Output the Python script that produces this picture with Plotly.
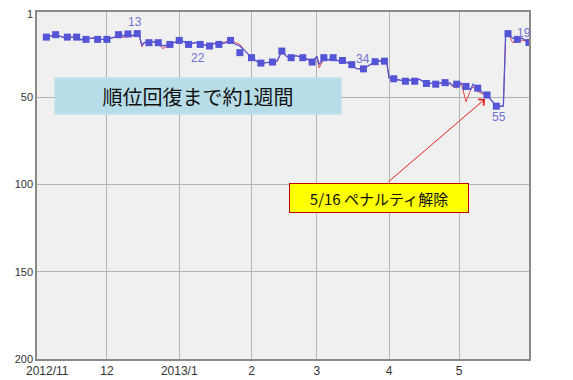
import plotly.graph_objects as go

# ---- data ----
line_dates = ["2012-11-05", "2012-11-09", "2012-11-12", "2012-11-14", "2012-11-18", "2012-11-20",
              "2012-11-21", "2012-11-22", "2012-11-25", "2012-11-27", "2012-12-01", "2012-12-04",
              "2012-12-06", "2012-12-08", "2012-12-10", "2012-12-12", "2012-12-14", "2012-12-15",
              "2012-12-16", "2012-12-17", "2012-12-19", "2012-12-21", "2012-12-23", "2012-12-25",
              "2012-12-28", "2013-01-01", "2013-01-03", "2013-01-05", "2013-01-08", "2013-01-10",
              "2013-01-14", "2013-01-16", "2013-01-18", "2013-01-21", "2013-01-23", "2013-01-25",
              "2013-01-27", "2013-01-29", "2013-02-01", "2013-02-03", "2013-02-05", "2013-02-10",
              "2013-02-12", "2013-02-14", "2013-02-16", "2013-02-18", "2013-02-20", "2013-02-23",
              "2013-02-25", "2013-02-27", "2013-03-01", "2013-03-02", "2013-03-04", "2013-03-06",
              "2013-03-08", "2013-03-10", "2013-03-12", "2013-03-14", "2013-03-16", "2013-03-18",
              "2013-03-21", "2013-03-23", "2013-03-26", "2013-03-28", "2013-03-30", "2013-03-31",
              "2013-04-01", "2013-04-03", "2013-04-08", "2013-04-10", "2013-04-12", "2013-04-14",
              "2013-04-17", "2013-04-19", "2013-04-21", "2013-04-23", "2013-04-25", "2013-04-26",
              "2013-04-27", "2013-04-28", "2013-04-30", "2013-05-02", "2013-05-04", "2013-05-06",
              "2013-05-07", "2013-05-09", "2013-05-11", "2013-05-13", "2013-05-15", "2013-05-17",
              "2013-05-20", "2013-05-21", "2013-05-22", "2013-05-24", "2013-05-26", "2013-05-28",
              "2013-05-31"]
blue_ranks = [15.4, 14, 15.4, 15.4, 15.4, 17, 16, 16.7, 15.8, 16.7, 16.7, 15.5,
              14, 14.6, 13.6, 14.5, 13.4, 15, 20, 18.5, 18.6, 18, 18.6, 20.5,
              19.6, 17.3, 18, 19.6, 18.5, 19.6, 20.5, 19, 19.6, 18.5, 17.3, 19.5,
              20.5, 23, 27.2, 29, 30.3, 29.7, 29, 23.4, 26.5, 27.2, 26, 27.2,
              28, 29.7, 26.5, 31, 27.2, 28.5, 27.2, 29, 28.8, 30, 31.2, 33.5,
              33.6, 32, 29.5, 29, 29.2, 30, 38.8, 39.3, 40.7, 40, 40.7, 39.5,
              42, 41.8, 42.4, 41.8, 41.5, 43, 41.5, 43, 42.4, 41.8, 43.7, 45.5,
              42.5, 44.7, 47, 48.6, 52, 55, 55, 13.4, 13.4, 16, 16.7, 16, 18.5]
red_ranks = [15.4, 14, 15.4, 15.4, 15.4, 17, 16, 16.7, 15.8, 16.7, 16.7, 15.5,
             14.5, 15.5, 15.2, 14.8, 13.8, 15.5, 21, 18.5, 18.6, 18, 19.5, 22,
             19.6, 17.3, 18, 19.6, 18.5, 19.6, 20.5, 19, 19.6, 18, 17, 18.5,
             19.6, 23, 27.2, 29, 30.3, 29.7, 29.5, 23.4, 26.5, 27.2, 26, 27.2,
             28, 29.7, 26.5, 33, 28, 28.5, 27.2, 29, 28.8, 30, 31.2, 33.5,
             33.6, 32, 29.5, 29, 29.5, 30, 38.8, 39.3, 40.7, 40, 40.7, 39.5,
             42, 42, 42.4, 41.8, 41.5, 43.5, 41.5, 43.5, 44.5, 42, 52.5, 45.5,
             44, 46.5, 48, 49, 52, 55, 55, 13.4, 13.4, 18.5, 18.5, 17, 18.5]

marker_dates = ["2012-11-05", "2012-11-09", "2012-11-14", "2012-11-18", "2012-11-22", "2012-11-27",
                "2012-12-01", "2012-12-06", "2012-12-10", "2012-12-14", "2012-12-19", "2012-12-23",
                "2012-12-28", "2013-01-01", "2013-01-05", "2013-01-10", "2013-01-14", "2013-01-18",
                "2013-01-23", "2013-01-27", "2013-02-01", "2013-02-05", "2013-02-10", "2013-02-14",
                "2013-02-18", "2013-02-23", "2013-02-27", "2013-03-04", "2013-03-08", "2013-03-12",
                "2013-03-16", "2013-03-21", "2013-03-26", "2013-03-30", "2013-04-03", "2013-04-08",
                "2013-04-12", "2013-04-17", "2013-04-21", "2013-04-25", "2013-04-30", "2013-05-04",
                "2013-05-09", "2013-05-13", "2013-05-17", "2013-05-22", "2013-05-26", "2013-05-31"]
marker_ranks = [15.4, 14, 15.4, 15.4, 16.7, 16.7, 16.7, 14, 13.6, 13.4, 18.6, 18.6,
                19.6, 17.3, 19.6, 19.6, 20.5, 19.6, 17.3, 24.3, 27.2, 30.3, 29.7, 23.4,
                27.2, 27.2, 29.7, 27.2, 27.2, 28.8, 31.2, 33.6, 29.5, 29.2, 39.3, 40.7,
                40.7, 42, 42.4, 41.5, 42.4, 43.7, 44.7, 48.6, 55, 13.4, 16.7, 18.5]

# value labels: (date, rank, text, vertical shift px)
label_dates = ["2012-12-13", "2013-01-09", "2013-03-21", "2013-05-18", "2013-05-29"]
label_ranks = [13.4, 19.6, 33.6, 55, 18.5]
label_texts = ["13", "22", "34", "55", "19"]
label_shift = [12, -14, 10, -11, 10]

x_tickvals = ["2012-12-01", "2013-01-01", "2013-02-01", "2013-03-01", "2013-04-01", "2013-05-01"]
x_ticktext = ["12", "2013/1", "2", "3", "4", "5"]
y_tickvals = [50, 100, 150, 200]
y_top_label = "1"

BLUE = "#5454d6"
RED = "#e04848"
TICKFONT_Y = dict(family="Liberation Sans, Arial", size=11, color="#333333")

fig = go.Figure()
fig.add_trace(go.Scatter(x=line_dates, y=red_ranks, mode="lines",
                         line=dict(color=RED, width=1), hoverinfo="skip"))
fig.add_trace(go.Scatter(x=line_dates, y=blue_ranks, mode="lines",
                         line=dict(color=BLUE, width=1.3), hoverinfo="skip"))
fig.add_trace(go.Scatter(x=marker_dates, y=marker_ranks, mode="markers",
                         marker=dict(symbol="square", size=7, color=BLUE)))

for d, r, t, s in zip(label_dates, label_ranks, label_texts, label_shift):
    fig.add_annotation(x=d, y=r, text=t, showarrow=False, yshift=s,
                       font=dict(family="Liberation Sans, Arial", size=12, color="#7272d2"))

# first x label (offset from the axis edge)
fig.add_annotation(x="2012-11-05T17:00", y=0, xref="x", yref="paper", yanchor="top",
                   text="2012/11", showarrow=False, yshift=-3,
                   font=dict(family="Liberation Sans, Arial", size=12, color="#333333"))

# top y label, nudged down so it is not clipped
fig.add_annotation(x=0, y=1, xref="paper", yref="paper", xanchor="right", yanchor="middle",
                   text=y_top_label, showarrow=False, xshift=-2, yshift=-2, font=TICKFONT_Y)

# blue caption box
fig.add_annotation(x=0.327, y=0.759, xref="paper", yref="paper", text="順位回復まで約1週間",
                   xanchor="center", yanchor="middle",
                   showarrow=False, bgcolor="#b7dde8", width=286, height=36, borderpad=0,
                   font=dict(family="Noto Sans CJK JP", size=20, color="#111111"))

# arrow
fig.add_annotation(x=0.9106, y=0.7493, xref="paper", yref="paper", text="",
                   showarrow=True, ax=-98, ay=84, arrowhead=4, arrowsize=1.6,
                   arrowwidth=1, arrowcolor="#e02020")

# yellow box
fig.add_annotation(x=(378.5 - 37) / 492, y=1 - (198.3 - 12) / 347, xref="paper", yref="paper",
                   xanchor="center", yanchor="middle",
                   text="5/16 ペナルティ解除", showarrow=False, bgcolor="#ffff00",
                   bordercolor="#c00000", borderwidth=1, width=178, height=28, borderpad=0,
                   font=dict(family="Noto Sans CJK JP", size=15, color="#111111"))

# page body has an 8px margin, so the figure is sized/offset to compensate
fig.update_layout(
    width=565, height=372,
    margin=dict(l=29, r=44, t=4, b=21, autoexpand=False),
    paper_bgcolor="white", plot_bgcolor="#f0f0f0",
    showlegend=False,
)
fig.update_xaxes(type="date", range=["2012-11-01", "2013-05-31"], automargin=False,
                 tickvals=x_tickvals, ticktext=x_ticktext,
                 showgrid=True, gridcolor="#b4b4b4", gridwidth=1,
                 showline=True, linecolor="#8a8a8a", linewidth=1.5, mirror=True,
                 ticks="", zeroline=False,
                 tickfont=dict(family="Liberation Sans, Arial", size=12, color="#333333"))
fig.update_yaxes(range=[200, 1], tickvals=y_tickvals, automargin=False,
                 ticklabeloverflow="allow",
                 showgrid=True, gridcolor="#b4b4b4", gridwidth=1,
                 showline=True, linecolor="#8a8a8a", linewidth=1.5, mirror=True,
                 ticks="", zeroline=False, tickfont=TICKFONT_Y)

fig.write_html("out.html")
